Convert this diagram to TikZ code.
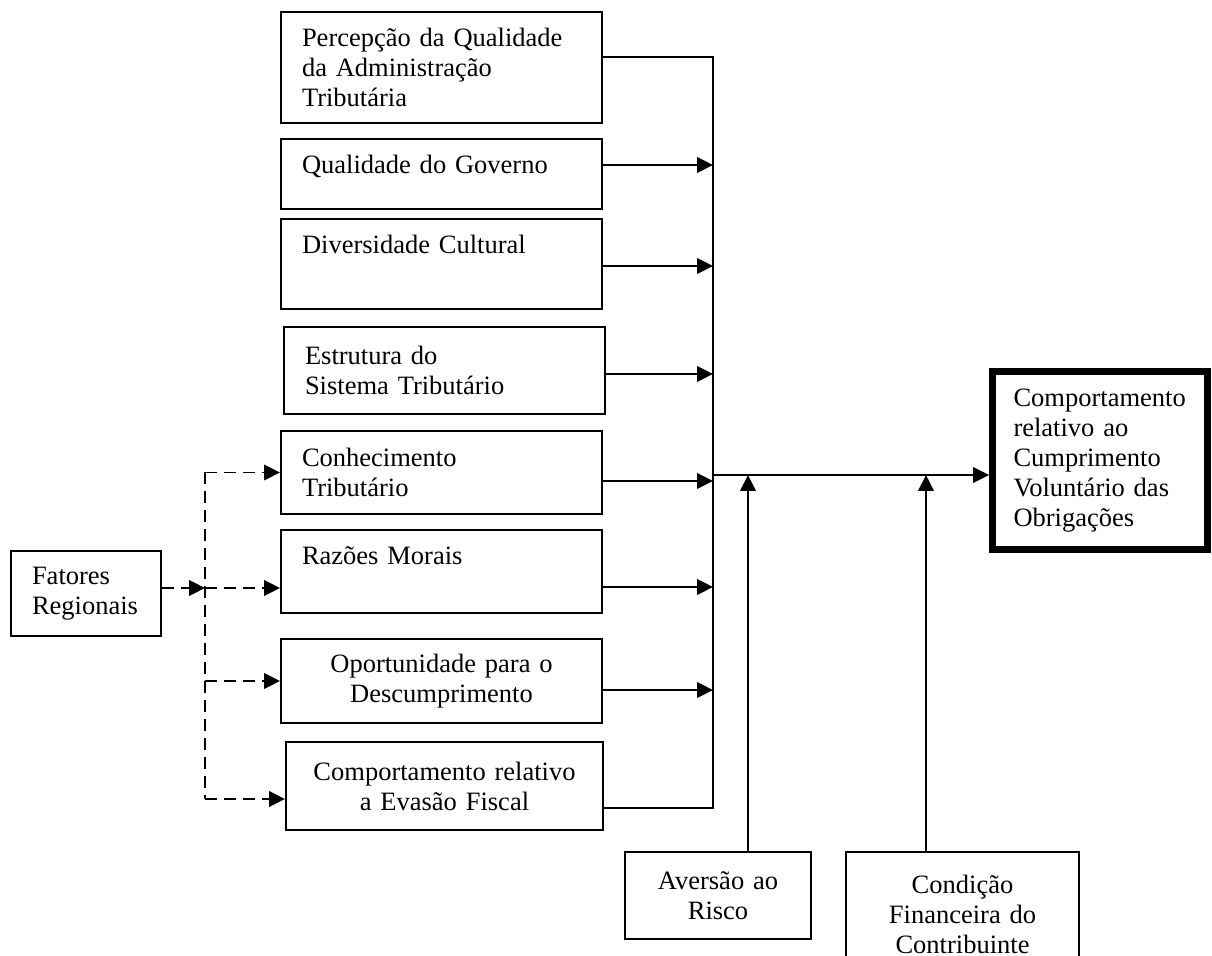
\documentclass[tikz,border=0pt]{standalone}
\usepackage{fontspec}
\setmainfont{Liberation Serif}
\usetikzlibrary{arrows.meta}
\newlength\pxu
\setlength\pxu{0.4528pt}

\begin{document}
\begin{tikzpicture}[
  x=\pxu, y=-\pxu,
  font=\fontsize{12}{13.6}\selectfont,
  >={Triangle[length=7.2pt,width=7pt]},
  line width=0.9pt,
  box/.style={draw, inner xsep=21\pxu, inner ysep=2pt, align=left},
  cbox/.style={box, align=center},
  topbox/.style={box, text height=30.6\pxu, text depth=#1\pxu},
  link/.style={->},
  dline/.style={dash pattern=on 5.4pt off 3.2pt},
  dlink/.style={->, dline}
]
\useasboundingbox (0,0) rectangle (1212,956);

\node[box, text width=279\pxu, minimum height=111\pxu] (perc) at (441.5,67.5)
  {Percepção da Qualidade\\da Administração\\Tributária};
\node[topbox=30.6, text width=279\pxu] (gov) at (441.5,174) {Qualidade do Governo};
\node[topbox=50.6, text width=279\pxu] (div) at (441.5,264) {Diversidade Cultural};
\node[box, text width=279\pxu, minimum height=87\pxu] (est) at (444.5,370.5)
  {Estrutura do\\Sistema Tributário};
\node[box, text width=279\pxu, minimum height=83\pxu] (con) at (441.5,472.5)
  {Conhecimento\\Tributário};
\node[topbox=43.6, text width=279\pxu] (raz) at (441.5,571.5) {Razões Morais};
\node[cbox, text width=279\pxu, minimum height=84\pxu] (opo) at (441.5,681)
  {Oportunidade para o\\Descumprimento};
\node[cbox, text width=275\pxu, minimum height=88\pxu] (eva) at (444.5,786)
  {Comportamento relativo\\a Evasão Fiscal};
\node[box, text width=108\pxu, minimum height=85\pxu] (fat) at (86,593.5)
  {Fatores\\Regionais};
\node[box, line width=3.1pt, text width=173\pxu, minimum height=178\pxu] (comp) at (1100,460.5)
  {Comportamento\\relativo ao\\Cumprimento\\Voluntário das\\Obrigações};
\node[cbox, text width=144\pxu, minimum height=87\pxu] (ave) at (718,895.5)
  {Aversão ao\\Risco};
\node[cbox, text width=191\pxu, minimum height=124\pxu] (cond) at (962.5,914)
  {Condição\\Financeira do\\Contribuinte};

\coordinate (bus) at (713,57);
\coordinate (busend) at (713,808);
\coordinate (join) at (713,475);
\coordinate (split) at (205,588);

\draw (perc.east |- bus) -- (bus) -- (busend) -- (eva.east |- busend);
\foreach \n/\yy in {gov/165, div/266, est/374, con/481, raz/587, opo/690}
  \draw[link] (\n.east |- 0,\yy) -- (bus |- 0,\yy);
\draw[link] (join) -- (comp.west |- join);
\draw[link] (ave.north -| 748,0) -- (748,0 |- join);
\draw[link] (cond.north -| 926,0) -- (926,0 |- join);

\draw[dlink] (fat.east |- split) -- (split);
\draw[dline] (split |- con.west) -- (split |- 0,799);
\draw[dlink] (split |- con.west) -- (con.west);
\draw[dlink] (split) -- (raz.west |- split);
\draw[dlink] (split |- opo.west) -- (opo.west);
\draw[dlink] (split |- 0,799) -- (eva.west |- 0,799);
\end{tikzpicture}
\end{document}
